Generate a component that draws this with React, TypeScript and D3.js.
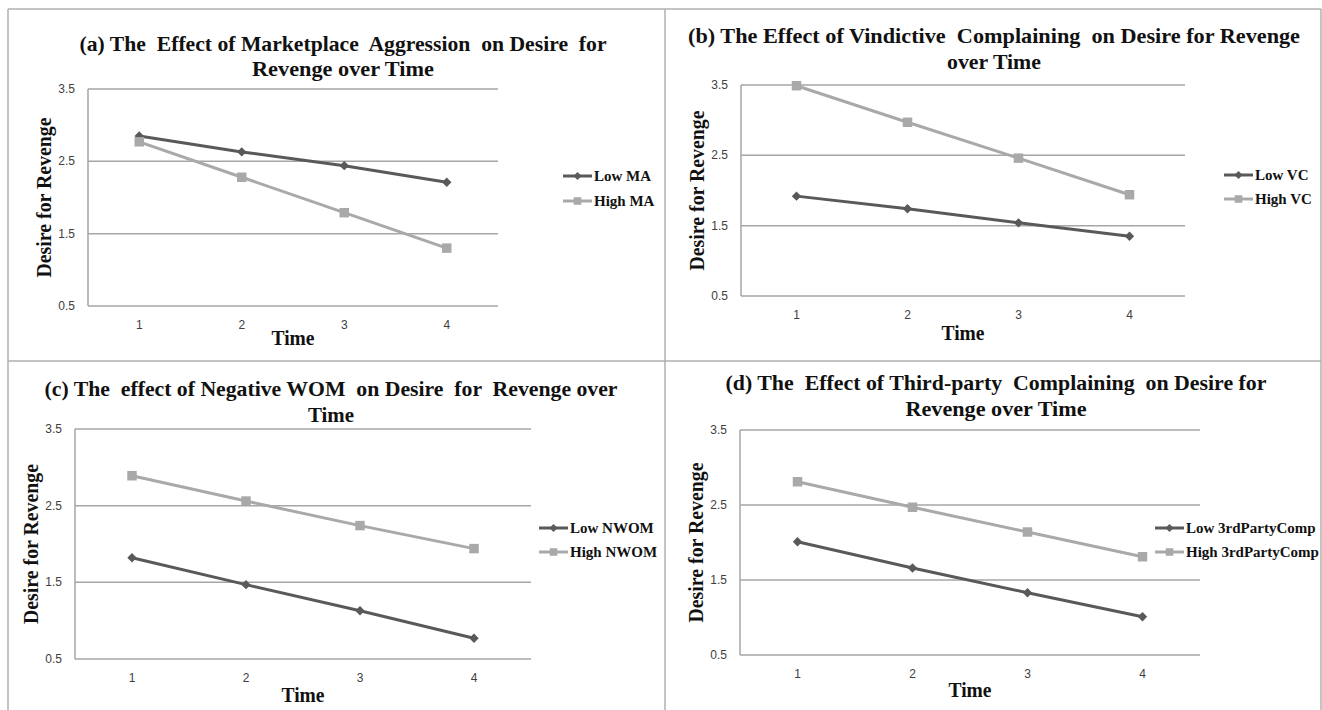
import React from "react";
import * as d3 from "d3";

// time points and y ticks shared by all four panels
const times = ["1", "2", "3", "4"];
const yTicks = [0.5, 1.5, 2.5, 3.5];

// series values
const lowMA = [2.85, 2.63, 2.44, 2.21];
const highMA = [2.77, 2.28, 1.79, 1.3];
const lowVC = [1.92, 1.74, 1.54, 1.35];
const highVC = [3.49, 2.97, 2.46, 1.94];
const lowNWOM = [1.82, 1.47, 1.13, 0.77];
const highNWOM = [2.89, 2.56, 2.24, 1.94];
const low3rd = [2.01, 1.66, 1.33, 1.01];
const high3rd = [2.81, 2.47, 2.14, 1.81];

const titleA = ["(a) The  Effect of Marketplace  Aggression  on Desire  for", "Revenge over Time"];
const titleB = ["(b) The Effect of Vindictive  Complaining  on Desire for Revenge", "over Time"];
const titleC = ["(c) The  effect of Negative WOM  on Desire  for  Revenge over", "Time"];
const titleD = ["(d) The  Effect of Third-party  Complaining  on Desire for", "Revenge over Time"];

const yLabel = "Desire for Revenge";
const xLabel = "Time";

const LOW = "#595959";
const HIGH = "#a9a9a9";
const GRID = "#a6a6a6";
const SERIF = "'Liberation Serif', 'Times New Roman', serif";
const SANS = "'Liberation Sans', Arial, sans-serif";

const diamond = d3.symbol(d3.symbolSquare, 44)();
const square = d3.symbol(d3.symbolSquare, 90)();

function Panel(props) {
  const { box, title, tw, low, high, names, leg, timeY } = props;
  const x = d3.scaleBand().domain(times).range([box.left, box.right]);
  const y = d3.scaleLinear().domain([0.5, 3.5]).range([box.bottom, box.top]);
  const cx = (t) => x(t) + x.bandwidth() / 2;
  const line = d3
    .line()
    .x((d, i) => cx(times[i]))
    .y((d) => y(d));
  const midY = (box.top + box.bottom) / 2;
  const midX = (box.left + box.right) / 2;

  return (
    <g>
      {/* title */}
      {title.map((t, i) => (
        <text
          key={i}
          x={tw.cx}
          y={tw.y[i]}
          textAnchor="middle"
          dominantBaseline="central"
          fontFamily={SERIF}
          fontWeight="bold"
          fontSize={22}
          textLength={tw.w[i]}
          lengthAdjust="spacingAndGlyphs"
          fill="#111"
          style={{ whiteSpace: "pre" }}
        >
          {t}
        </text>
      ))}

      {/* gridlines */}
      {yTicks.map((v) => (
        <line key={v} x1={box.left} x2={box.right} y1={y(v)} y2={y(v)} stroke={GRID} strokeWidth={1.5} />
      ))}
      <line x1={box.left} x2={box.left} y1={y(3.5)} y2={y(0.5)} stroke={GRID} strokeWidth={1.5} />

      {/* y tick labels */}
      {yTicks.map((v) => (
        <text
          key={v}
          x={box.left - 13}
          y={y(v)}
          textAnchor="end"
          dominantBaseline="central"
          fontFamily={SANS}
          fontSize={12}
          fill="#404040"
        >
          {d3.format(".1f")(v)}
        </text>
      ))}

      {/* x tick labels */}
      {times.map((t) => (
        <text
          key={t}
          x={cx(t)}
          y={box.bottom + 19}
          textAnchor="middle"
          dominantBaseline="central"
          fontFamily={SANS}
          fontSize={12}
          fill="#404040"
        >
          {t}
        </text>
      ))}

      {/* axis titles */}
      <text
        x={midX}
        y={box.bottom + timeY}
        textAnchor="middle"
        dominantBaseline="central"
        fontFamily={SERIF}
        fontWeight="bold"
        fontSize={22}
        textLength={43}
        lengthAdjust="spacingAndGlyphs"
        fill="#111"
      >
        {xLabel}
      </text>
      <text
        transform={`translate(${box.left - 45},${midY}) rotate(-90)`}
        textAnchor="middle"
        dominantBaseline="central"
        fontFamily={SERIF}
        fontWeight="bold"
        fontSize={22}
        textLength={160}
        lengthAdjust="spacingAndGlyphs"
        fill="#111"
      >
        {yLabel}
      </text>

      {/* series */}
      <path d={line(low)} fill="none" stroke={LOW} strokeWidth={3} />
      {low.map((v, i) => (
        <path key={i} d={diamond} transform={`translate(${cx(times[i])},${y(v)}) rotate(45)`} fill={LOW} />
      ))}
      <path d={line(high)} fill="none" stroke={HIGH} strokeWidth={3} />
      {high.map((v, i) => (
        <path key={i} d={square} transform={`translate(${cx(times[i])},${y(v)})`} fill={HIGH} />
      ))}

      {/* legend */}
      {[
        { name: names[0], color: LOW, sym: diamond, rot: 45, yy: leg.y[0] },
        { name: names[1], color: HIGH, sym: square, rot: 0, yy: leg.y[1] },
      ].map((s) => (
        <g key={s.name}>
          <line x1={leg.x} x2={leg.x + 29} y1={s.yy} y2={s.yy} stroke={s.color} strokeWidth={3} />
          <path
            d={s.sym}
            transform={`translate(${leg.x + 14.5},${s.yy}) rotate(${s.rot}) scale(${s.rot ? 0.85 : 0.8})`}
            fill={s.color}
          />
          <text
            x={leg.x + 31}
            y={s.yy}
            dominantBaseline="central"
            fontFamily={SERIF}
            fontWeight="bold"
            fontSize={15}
            fill="#111"
          >
            {s.name}
          </text>
        </g>
      ))}
    </g>
  );
}

export default function App() {
  return (
    <svg width={1322} height={710} style={{ position: "absolute", left: 0, top: 0, background: "#fff" }}>
      <rect x={0} y={0} width={1322} height={710} fill="#fff" />
      {/* frame and dividers */}
      <line x1={8} x2={1321} y1={9} y2={9} stroke="#b0b0b0" strokeWidth={1.5} />
      <line x1={8} x2={8} y1={9} y2={710} stroke="#b0b0b0" strokeWidth={1.5} />
      <line x1={1321} x2={1321} y1={9} y2={710} stroke="#b0b0b0" strokeWidth={1.5} />
      <line x1={665} x2={665} y1={9} y2={710} stroke="#b0b0b0" strokeWidth={1.5} />
      <line x1={8} x2={1321} y1={361} y2={361} stroke="#b0b0b0" strokeWidth={1.5} />

      <Panel
        box={{ left: 88, right: 498, top: 89, bottom: 306 }}
        title={titleA}
        tw={{ cx: 343, y: [43, 68], w: [527, 182] }}
        low={lowMA}
        high={highMA}
        names={["Low MA", "High MA"]}
        leg={{ x: 563, y: [176, 201] }}
        timeY={31}
      />
      <Panel
        box={{ left: 741, right: 1185, top: 85, bottom: 296 }}
        title={titleB}
        tw={{ cx: 994, y: [35, 61], w: [612, 94] }}
        low={lowVC}
        high={highVC}
        names={["Low VC", "High VC"]}
        leg={{ x: 1224, y: [175, 199] }}
        timeY={36}
      />
      <Panel
        box={{ left: 75, right: 531, top: 429, bottom: 659 }}
        title={titleC}
        tw={{ cx: 331, y: [388, 414], w: [573, 46] }}
        low={lowNWOM}
        high={highNWOM}
        names={["Low NWOM", "High NWOM"]}
        leg={{ x: 539, y: [528, 552] }}
        timeY={35}
      />
      <Panel
        box={{ left: 740, right: 1200, top: 430, bottom: 655 }}
        title={titleD}
        tw={{ cx: 996, y: [382, 408], w: [541, 181] }}
        low={low3rd}
        high={high3rd}
        names={["Low 3rdPartyComp", "High 3rdPartyComp"]}
        leg={{ x: 1155, y: [528, 552] }}
        timeY={34}
      />
    </svg>
  );
}
